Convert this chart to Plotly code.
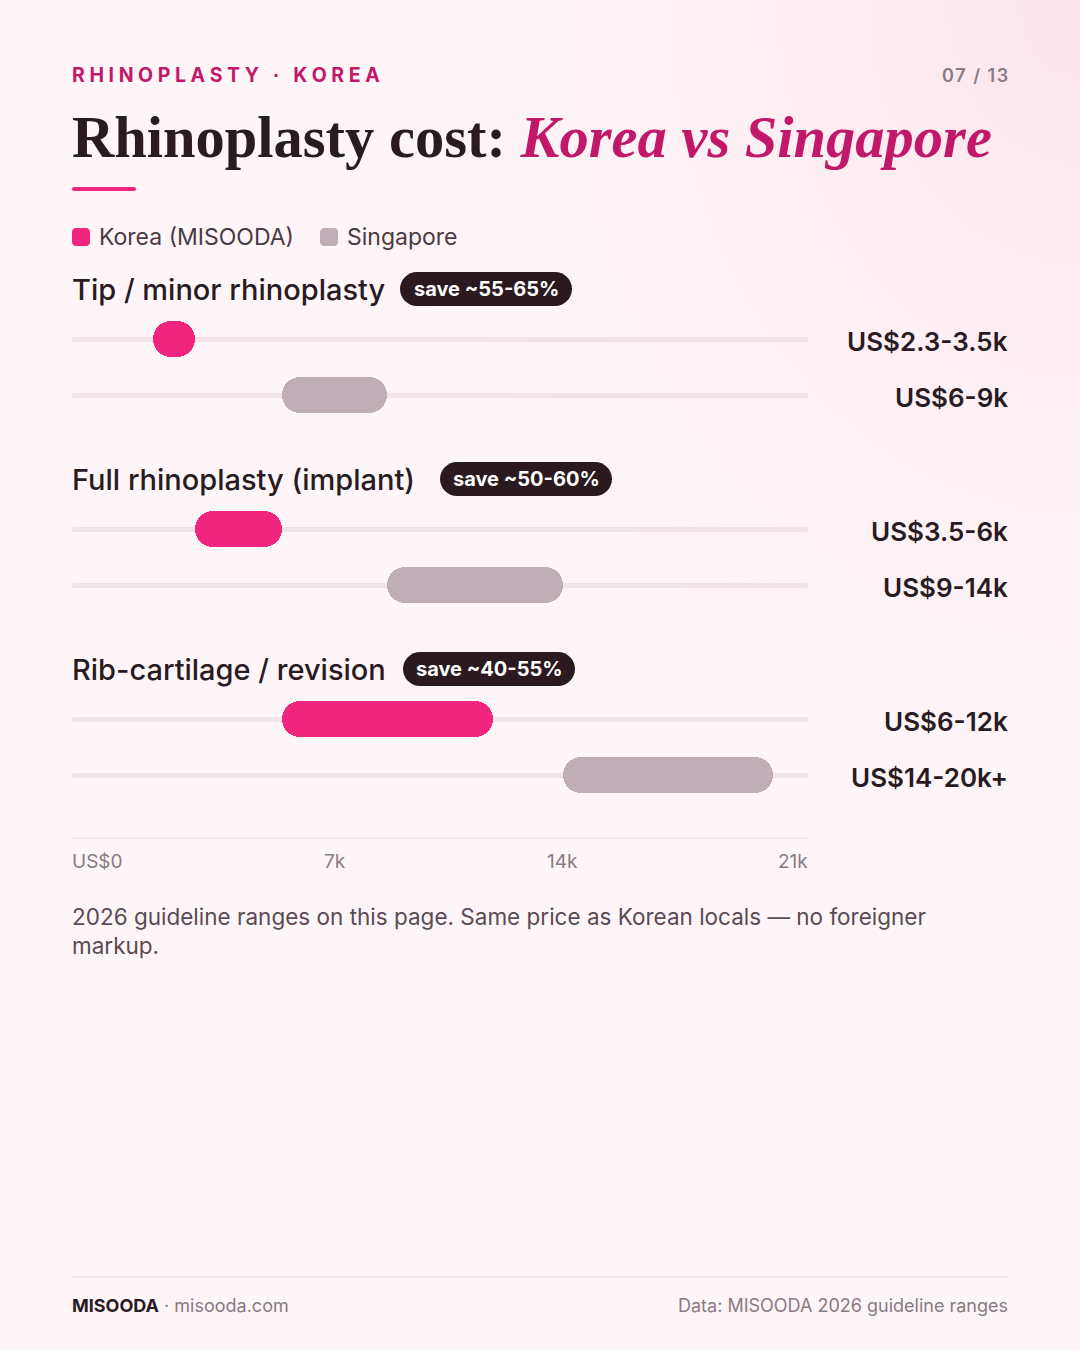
import base64
import plotly.graph_objects as go

# ---------------- data ----------------
procedures = ["Tip / minor rhinoplasty", "Full rhinoplasty (implant)", "Rib-cartilage / revision"]
savings = ["save ~55-65%", "save ~50-60%", "save ~40-55%"]
korea_low = [2.3, 3.5, 6.0]
korea_high = [3.5, 6.0, 12.0]
singapore_low = [6.0, 9.0, 14.0]
singapore_high = [9.0, 14.0, 20.0]
korea_labels = ["US$2.3-3.5k", "US$3.5-6k", "US$6-12k"]
singapore_labels = ["US$6-9k", "US$9-14k", "US$14-20k+"]
tick_labels = ["US$0", "7k", "14k", "21k"]
axis_max = 21.0

# ---------------- style ----------------
W, H = 1080, 1350
X0, X1 = 72, 808
RIGHT = 1008
PINK = "#f0257d"
MAGENTA = "#c2186a"
GREY_BAR = "#bfaeb5"
TRACK = "#f1e4e9"
DARK = "#2a1a22"
MUTED = "#8a7a82"
BODY = "#5b4a53"
SANS = "Inter, 'Noto Sans', sans-serif"
SERIF = "'Liberation Serif', 'DejaVu Serif', serif"
BAR_H = 36
GROUP_GAP = 190
ROW_GAP = 56
FIRST_ROW = 339
HEAD_OFF = 50
PAD = 2  # annotation inner padding compensation


def px(x):
    return x / W


def rounded_path(x0, x1, y0, y1, r):
    k = 0.5523 * r
    return (f"M {px(x0 + r)},{y0} L {px(x1 - r)},{y0} "
            f"C {px(x1 - r + k)},{y0} {px(x1)},{y0 + r - k} {px(x1)},{y0 + r} "
            f"L {px(x1)},{y1 - r} "
            f"C {px(x1)},{y1 - r + k} {px(x1 - r + k)},{y1} {px(x1 - r)},{y1} "
            f"L {px(x0 + r)},{y1} "
            f"C {px(x0 + r - k)},{y1} {px(x0)},{y1 - r + k} {px(x0)},{y1 - r} "
            f"L {px(x0)},{y0 + r} "
            f"C {px(x0)},{y0 + r - k} {px(x0 + r - k)},{y0} {px(x0 + r)},{y0} Z")


fig = go.Figure()

korea_y, sing_y, head_y = [], [], []
for g in range(len(procedures)):
    ky = FIRST_ROW + g * GROUP_GAP
    korea_y.append(ky)
    sing_y.append(ky + ROW_GAP)
    head_y.append(ky - HEAD_OFF)
all_rows = korea_y + sing_y

# tracks
fig.add_trace(go.Bar(
    orientation="h", y=all_rows, x=[axis_max] * len(all_rows), base=[0] * len(all_rows),
    width=5, marker=dict(color=TRACK, cornerradius=3, line=dict(width=0)),
    hoverinfo="skip", showlegend=False))
# Singapore
fig.add_trace(go.Bar(
    orientation="h", name="Singapore", y=sing_y,
    x=[h - l for l, h in zip(singapore_low, singapore_high)], base=singapore_low,
    width=BAR_H, marker=dict(color=GREY_BAR, cornerradius=BAR_H // 2, line=dict(width=0)),
    showlegend=False))
# Korea
fig.add_trace(go.Bar(
    orientation="h", name="Korea (MISOODA)", y=korea_y,
    x=[h - l for l, h in zip(korea_low, korea_high)], base=korea_low,
    width=BAR_H, marker=dict(color=PINK, cornerradius=BAR_H // 2, line=dict(width=0)),
    showlegend=False))

ann = []
shapes = []

def text(x, y, s, size, color, anchor="left", weight=400, family=SANS, yanchor="middle"):
    if anchor == "left":
        x -= PAD
    elif anchor == "right":
        x += PAD
    ann.append(dict(x=px(x), y=y, xref="paper", yref="y", text=s, showarrow=False,
                    xanchor=anchor, yanchor=yanchor,
                    font=dict(size=size, color=color, family=family, weight=weight)))

# top label
gap = "\u2009\u200a"
spaced = (gap.join(list("RHINOPLASTY")) + "\u2009\u2009\u2009 · \u2009\u2009\u2009"
          + gap.join(list("KOREA")))
text(72, 75, spaced, 19.5, MAGENTA, weight=700)
text(RIGHT, 75, "\u200a".join(list("07 / 13")), 18, MUTED, anchor="right", weight=600)

# title
text(72, 137, "<b>Rhinoplasty cost: </b><b><i><span style='color:%s'>Korea vs Singapore</span></i></b>" % MAGENTA,
     58.5, DARK, family=SERIF)
shapes.append(dict(type="path", xref="paper", yref="y", path=rounded_path(72, 136, 187, 191, 2),
                   fillcolor=PINK, line=dict(width=0)))

# legend
for lx, col, name in [(72, PINK, "Korea (MISOODA)"), (320, GREY_BAR, "Singapore")]:
    shapes.append(dict(type="path", xref="paper", yref="y", path=rounded_path(lx, lx + 18, 228, 246, 4),
                       fillcolor=col, line=dict(width=0)))
    text(lx + 27, 237, name, 23, "#4a3a42")

# headings + badges
badge_left = [400, 440, 403]
badge_w = 172
for g, (proc, sv) in enumerate(zip(procedures, savings)):
    hy = head_y[g]
    text(72, hy, proc, 29, DARK, weight=500)
    bx0, bx1 = badge_left[g], badge_left[g] + badge_w
    shapes.append(dict(type="path", xref="paper", yref="y", path=rounded_path(bx0, bx1, hy - 17, hy + 17, 17),
                       fillcolor="#2a1a20", line=dict(width=0), layer="above"))
    text((bx0 + bx1) / 2, hy, sv, 20, "white", anchor="center", weight=700)
    text(RIGHT, korea_y[g] + 2, korea_labels[g], 26, DARK, anchor="right", weight=600)
    text(RIGHT, sing_y[g] + 2, singapore_labels[g], 26, DARK, anchor="right", weight=600)

# axis baseline + tick labels
shapes.append(dict(type="line", xref="paper", yref="y", x0=px(X0), x1=px(X1), y0=838, y1=838,
                   line=dict(color="#eadde2", width=1)))
tick_pos = [(72, "left"), (335, "center"), (562, "center"), (808, "right")]
for lab, (tx, anc) in zip(tick_labels, tick_pos):
    text(tx, 861, lab, 19, MUTED, anchor=anc)

# footnote
text(72, 931, "2026 guideline ranges on this page. Same price as Korean locals — no foreigner<br>markup.",
     22.5, BODY)
ann[-1]["align"] = "left"

# footer
shapes.append(dict(type="line", xref="paper", yref="y", x0=px(72), x1=px(RIGHT), y0=1277, y1=1277,
                   line=dict(color="#eadde2", width=1)))
text(72, 1305, "<b>MISOODA</b><span style='color:%s'> · misooda.com</span>" % MUTED, 18, DARK)
text(RIGHT, 1305, "Data: MISOODA 2026 guideline ranges", 18, MUTED, anchor="right")

# background glow
svg = (f"<svg xmlns='http://www.w3.org/2000/svg' width='{W}' height='{H}'>"
       "<defs><radialGradient id='g' cx='1' cy='0' r='0.75' gradientUnits='objectBoundingBox'>"
       "<stop offset='0' stop-color='#fde3ed' stop-opacity='1'/>"
       "<stop offset='0.55' stop-color='#fdf0f4' stop-opacity='0.6'/>"
       "<stop offset='1' stop-color='#fdf5f8' stop-opacity='0'/>"
       "</radialGradient></defs>"
       f"<rect width='{W}' height='{H}' fill='#fdf5f8'/>"
       f"<rect width='{W}' height='{H}' fill='url(#g)'/></svg>")
src = "data:image/svg+xml;base64," + base64.b64encode(svg.encode()).decode()

fig.update_layout(
    width=W, height=H, margin=dict(l=0, r=0, t=0, b=0),
    paper_bgcolor="#fdf5f8", plot_bgcolor="rgba(0,0,0,0)",
    barmode="overlay", bargap=0,
    xaxis=dict(domain=[px(X0), px(X1)], range=[0, axis_max], visible=False, fixedrange=True),
    yaxis=dict(domain=[0, 1], range=[H, 0], visible=False, fixedrange=True),
    annotations=ann, shapes=shapes,
    images=[dict(source=src, xref="paper", yref="paper", x=0, y=1, sizex=1, sizey=1,
                 sizing="stretch", layer="below", xanchor="left", yanchor="top")],
    showlegend=False,
)

fig.write_html("out.html", config={"displayModeBar": False},
               post_script="document.body.style.margin='0';document.body.style.overflow='hidden';")
